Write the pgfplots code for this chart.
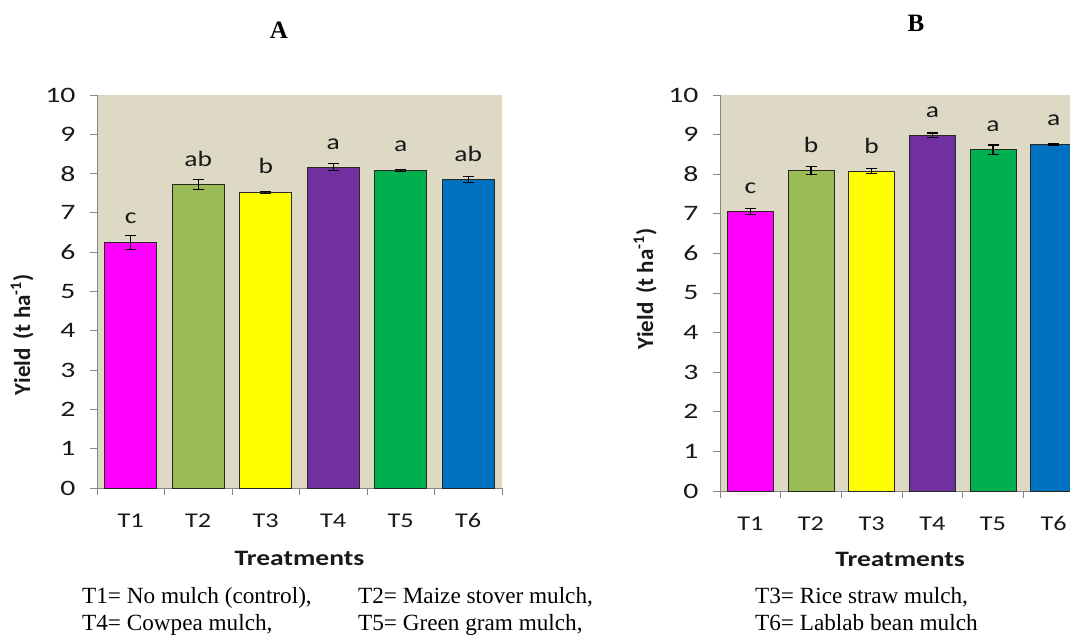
\documentclass[border=0pt]{standalone}
\usepackage{pgfplots}
\pgfplotsset{compat=1.18}
\usepackage{fontspec}
\setmainfont{Liberation Serif}
\newfontfamily\calst[FakeStretch=1.25]{Carlito}
\newfontfamily\calnum[FakeStretch=1.35]{Carlito}
\newfontfamily\calrg{Carlito}
\definecolor{bg}{RGB}{221,217,196}
\definecolor{axgray}{RGB}{134,134,134}
\definecolor{cT1}{RGB}{255,0,255}
\definecolor{cT2}{RGB}{155,187,89}
\definecolor{cT3}{RGB}{255,255,0}
\definecolor{cT4}{RGB}{112,48,160}
\definecolor{cT5}{RGB}{0,176,80}
\definecolor{cT6}{RGB}{0,112,192}
\definecolor{barline}{RGB}{40,40,30}
\definecolor{txt}{RGB}{25,25,25}
\pgfplotsset{
  yieldaxis/.style={
    scale only axis,
    xmin=0.5, xmax=6.5, ymin=0, ymax=10,
    ytick={0,1,...,10},
    xtick={1,...,6},
    xticklabels={T1,T2,T3,T4,T5,T6},
    minor xtick={0.5,1.5,...,6.5},
    major x tick style={draw=none},
    minor x tick style={axgray, line width=0.8pt},
    y tick style={axgray, line width=0.8pt},
    tick align=outside,
    major tick length=7pt, minor tick length=7pt,
    axis lines*=left,
    axis line style={axgray, line width=0.8pt},
    axis background/.style={fill=bg},
    /pgf/number format/assume math mode=true,
    xticklabel style={font=\calst\fontsize{21}{22}\selectfont, text=txt, yshift=-15pt},
    yticklabel style={font=\calnum\fontsize{22}{22}\selectfont, text=txt, xshift=-11pt},
    label style={font=\calrg\bfseries\fontsize{23}{24}\selectfont, text=txt},
    xlabel style={font=\calst\bfseries\fontsize{22}{24}\selectfont},
    xlabel={Treatments},
    ylabel={Yield\, (t ha\textsuperscript{-1})},
    clip=false,
  },
  bars/.style 2 args={ybar, bar width=#1, bar shift=0pt, draw=barline, line width=0.7pt,
    error bars/y dir=both, error bars/y explicit,
    error bars/error bar style={black, line width=#2},
    error bars/error mark options={rotate=90, black, mark size=5.5pt, line width=#2}},
  letters/.style={draw=none, mark=none, nodes near coords, point meta=explicit symbolic,
    every node near coord/.style={anchor=base, inner sep=0pt, font=\calst\fontsize{22}{22}\selectfont, text=txt}},
}
\begin{document}
\begin{tikzpicture}
% Panel A
\begin{axis}[yieldaxis, at={(97pt,148pt)}, anchor=south west, width=405pt, height=393pt,
  ylabel style={at={(axis description cs:-0.185,0.39)}, anchor=center},
  xlabel style={at={(axis description cs:0.5,-0.178)}, anchor=center}]
\addplot[bars={0.77}{0.8pt}, fill=cT1] coordinates {(1,6.26) +- (0,0.18)};
\addplot[bars={0.77}{0.8pt}, fill=cT2] coordinates {(2,7.73) +- (0,0.12)};
\addplot[bars={0.77}{0.8pt}, fill=cT3] coordinates {(3,7.52) +- (0,0.02)};
\addplot[bars={0.77}{0.8pt}, fill=cT4] coordinates {(4,8.17) +- (0,0.09)};
\addplot[bars={0.77}{0.8pt}, fill=cT5] coordinates {(5,8.08) +- (0,0.02)};
\addplot[bars={0.77}{0.8pt}, fill=cT6] coordinates {(6,7.86) +- (0,0.08)};
\addplot[letters] table[meta=l] {
x y l
1 6.74 c
2 8.19 ab
3 8.00 b
4 8.62 a
5 8.55 a
6 8.30 ab
};
\end{axis}
\node[font=\bfseries\fontsize{25}{26}\selectfont] at (279pt,606pt) {A};
% Panel B
\begin{axis}[yieldaxis, at={(720pt,145pt)}, anchor=south west, width=364pt, height=396pt,
  ylabel style={at={(axis description cs:-0.206,0.51)}, anchor=center},
  xlabel style={at={(axis description cs:0.495,-0.174)}, anchor=center}]
\addplot[bars={0.76}{1.3pt}, fill=cT1] coordinates {(1,7.06) +- (0,0.07)};
\addplot[bars={0.76}{1.3pt}, fill=cT2] coordinates {(2,8.10) +- (0,0.10)};
\addplot[bars={0.76}{1.3pt}, fill=cT3] coordinates {(3,8.08) +- (0,0.07)};
\addplot[bars={0.76}{1.3pt}, fill=cT4] coordinates {(4,8.98) +- (0,0.06)};
\addplot[bars={0.76}{1.3pt}, fill=cT5] coordinates {(5,8.62) +- (0,0.12)};
\addplot[bars={0.76}{1.3pt}, fill=cT6] coordinates {(6,8.76) +- (0,0.02)};
\addplot[letters] table[meta=l] {
x y l
1 7.52 c
2 8.56 b
3 8.53 b
4 9.44 a
5 9.09 a
6 9.22 a
};
\end{axis}
\node[font=\bfseries\fontsize{25}{26}\selectfont] at (916pt,613pt) {B};
% Footnote
\begin{scope}[every node/.style={anchor=base west, inner sep=0pt, font=\fontsize{23.2}{24}\selectfont}]
\node at (82pt,32pt) {T1= No mulch (control),};
\node at (358pt,32pt) {T2= Maize stover mulch,};
\node at (755pt,32pt) {T3= Rice straw mulch,};
\node at (82pt,5pt) {T4= Cowpea mulch,};
\node at (358pt,5pt) {T5= Green gram mulch,};
\node at (755pt,5pt) {T6= Lablab bean mulch};
\end{scope}
\pgfresetboundingbox
\useasboundingbox (0pt,0pt) rectangle (1070pt,636pt);
\end{tikzpicture}
\end{document}
